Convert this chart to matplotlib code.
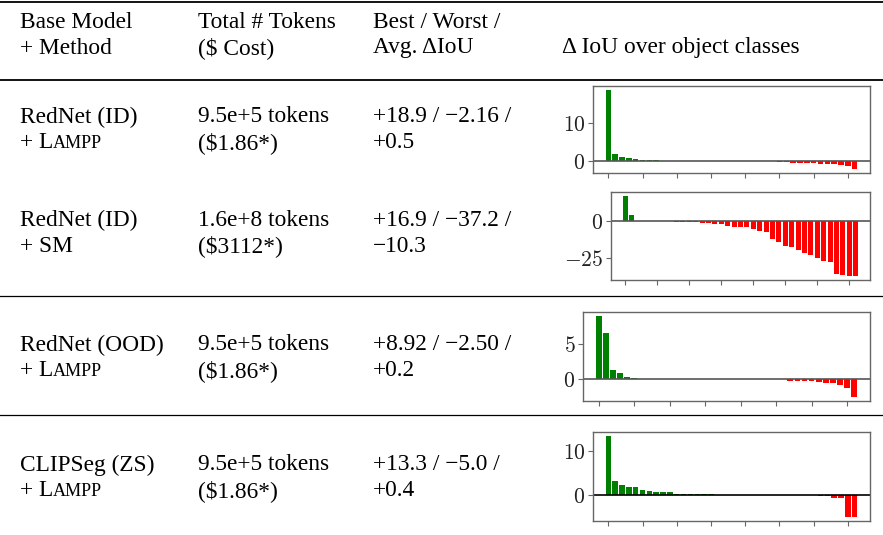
import matplotlib
matplotlib.use("Agg")
import matplotlib.pyplot as plt
import numpy as np

plt.rcParams['mathtext.fontset'] = 'cm'

W, H = 883, 535

# ---------------- data ----------------
header_col1 = ["Base Model", "+ Method"]
header_col2 = ["Total # Tokens", "($ Cost)"]
header_col3 = ["Best / Worst /", "Avg. ΔIoU"]
header_col4 = "Δ IoU over object classes"

row_models = ["RedNet (ID)", "RedNet (ID)", "RedNet (OOD)", "CLIPSeg (ZS)"]
row_methods = ["LAMPP", "SM", "LAMPP", "LAMPP"]
row_tokens = ["9.5e+5 tokens", "1.6e+8 tokens", "9.5e+5 tokens", "9.5e+5 tokens"]
row_costs = ["($1.86*)", "($3112*)", "($1.86*)", "($1.86*)"]
row_best_worst = ["+18.9 / −2.16 /", "+16.9 / −37.2 /", "+8.92 / −2.50 /", "+13.3 / −5.0 /"]
row_avg = ["+0.5", "−10.3", "+0.2", "+0.4"]

delta_rednet_id_lampp = [18.9, 1.8, 1.0, 0.7, 0.45, 0.35, 0.27, 0.2,
                         0, 0, 0, 0, 0, 0, 0, 0, 0, 0, 0, 0, 0, 0, 0, 0, 0,
                         -0.35, -0.4, -0.45, -0.5, -0.55, -0.6, -0.7, -0.75,
                         -0.85, -1.0, -1.25, -2.16]
delta_rednet_id_sm = [16.9, 3.8, 0, 0, 0, 0, 0, 0,
                      -0.45, -0.7, -0.9, -0.9, -1.35, -1.6, -1.8, -2.3, -3.6,
                      -3.8, -4.3, -4.3, -5.6, -6.5, -7.7, -12.4, -14.2, -17.1,
                      -17.6, -19.6, -21.4, -22.9, -25.0, -27.0, -27.9, -35.6,
                      -36.7, -36.9, -37.2]
delta_rednet_ood_lampp = [8.92, 6.5, 1.3, 0.95, 0.3, 0.2,
                          0, 0, 0, 0, 0, 0, 0, 0, 0, 0, 0, 0, 0, 0, 0, 0, 0,
                          0, 0, 0, 0,
                          -0.19, -0.24, -0.24, -0.29, -0.38, -0.48, -0.57,
                          -0.76, -1.24, -2.50]
delta_clipseg_lampp = [13.3, 3.15, 2.15, 1.7, 1.7, 1.08, 0.77, 0.7, 0.7, 0.54,
                       0.3, 0.23, 0.2, 0.2, 0.2, 0.2,
                       0, 0, 0, 0, 0, 0, 0, 0, 0, 0, 0, 0, 0, 0, 0,
                       -0.2, -0.25, -0.6, -0.8, -4.9, -5.0]

series = [delta_rednet_id_lampp, delta_rednet_id_sm,
          delta_rednet_ood_lampp, delta_clipseg_lampp]
yticks = [[0, 10], [-25, 0], [0, 5], [0, 10]]
zero_colors = ['#555555', '#555555', '#555555', '#000000']

# ---------------- layout ----------------
fig = plt.figure(figsize=(W / 100, H / 100), dpi=100)
fig.patch.set_facecolor('white')

def fx(x):
    return x / W

def fy(y):
    return 1 - y / H

SERIF = ['Liberation Serif', 'DejaVu Serif']
FS = 16.8

def txt(x, y, s, size=FS):
    return fig.text(fx(x), fy(y), s, fontsize=size, family=SERIF,
                    va='center', ha='left', color='black')

renderer = fig.canvas.get_renderer()

def smallcaps_method(x, y, name):
    if name == "LAMPP":
        t = txt(x, y, "+ L")
        bb = t.get_window_extent(renderer)
        x2 = bb.x1
        fig.text(x2 / fig.dpi / fig.get_figwidth(), fy(y) - 0.0015, "AMPP",
                 fontsize=FS * 0.78, family=SERIF, va='center', ha='left',
                 color='black')
    else:
        txt(x, y, "+ " + name)

# rules
def hrule(y, lw):
    fig.add_artist(plt.Line2D([0, 1], [fy(y), fy(y)], color='black', lw=lw,
                              transform=fig.transFigure))

hrule(1.5, 1.3)
hrule(79.5, 1.3)
hrule(296, 0.9)
hrule(415, 0.9)

# header
txt(20, 22, header_col1[0]); txt(20, 48, header_col1[1])
txt(198, 22, header_col2[0]); txt(198, 48, header_col2[1])
txt(373, 22, header_col3[0]); txt(373, 48, header_col3[1])
txt(562, 48, header_col4)

row_y = [117, 220, 345, 465]
for i in range(4):
    y1 = row_y[i]
    y2 = y1 + 26
    txt(20, y1, row_models[i])
    smallcaps_method(20, y2, row_methods[i])
    txt(198, y1, row_tokens[i])
    txt(198, y2, row_costs[i])
    txt(373, y1, row_best_worst[i])
    txt(373, y2, row_avg[i])

# chart axes in pixel boxes (left, top, right, bottom)
boxes = [(593, 86, 870, 173), (611, 192, 870, 280),
         (583, 312, 870, 401), (593, 432, 870, 521)]

for k, (vals, box) in enumerate(zip(series, boxes)):
    l, t, r, b = box
    ax = fig.add_axes([fx(l), fy(b), (r - l) / W, (b - t) / H])
    v = np.array(vals)
    idx = np.arange(len(v))
    colors = ['green' if val > 0 else 'red' for val in v]
    ax.bar(idx, v, width=0.8, color=colors, linewidth=0)
    ax.axhline(0, color=zero_colors[k], lw=1.2)
    ax.set_xticks(np.arange(0, len(v), 5))
    ax.set_xticklabels([])
    ax.set_yticks(yticks[k])
    ax.set_yticklabels(['$%d$' % tv for tv in yticks[k]], fontsize=15.5)
    for sp in ax.spines.values():
        sp.set_color('#666666')
        sp.set_linewidth(1.0)
    ax.tick_params(axis='both', colors='#666666', length=3.5, width=0.8,
                   labelcolor='#222222', pad=2)

fig.savefig("out.png", dpi=100, facecolor='white')
